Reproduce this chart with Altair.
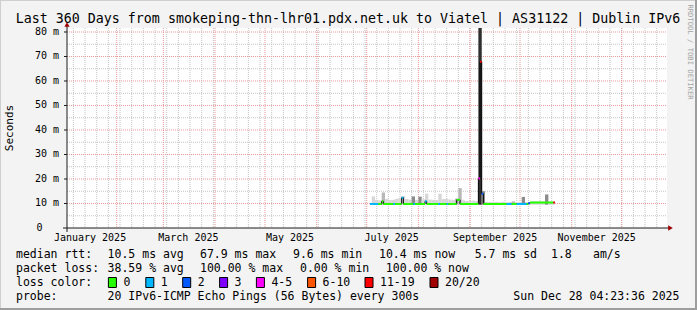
import altair as alt
import pandas as pd

MONO = "DejaVu Sans Mono"
W, H = 600, 200          # rrdtool canvas
OX, OY = 67, 28          # canvas origin inside the 697x310 image
Y_TOP = 81.63            # ms at the top edge of the canvas

# ---------------- data ----------------
title_text = "Last 360 Days from smokeping-thn-lhr01.pdx.net.uk to Viatel | AS31122 | Dublin IPv6"

y_ticks = [10, 20, 30, 40, 50, 60, 70, 80]
y_tick_labels = ["10 m", "20 m", "30 m", "40 m", "50 m", "60 m", "70 m", "80 m"]
y_minor = [5, 15, 25, 35, 45, 55, 65, 75]

month_starts = ["2025-02-01", "2025-03-01", "2025-04-01", "2025-05-01", "2025-06-01",
                "2025-07-01", "2025-08-01", "2025-09-01", "2025-10-01", "2025-11-01",
                "2025-12-01"]
label_dates = ["2025-01-16", "2025-03-16", "2025-05-16", "2025-07-16", "2025-09-16", "2025-11-16"]
month_labels = ["January 2025", "March 2025", "May 2025", "July 2025",
                "September 2025", "November 2025"]

# median RTT segments (ms) and loss class
seg_start = ["2025-07-03", "2025-07-08", "2025-07-10", "2025-07-11", "2025-07-17",
             "2025-07-18", "2025-07-22", "2025-07-23", "2025-07-29", "2025-07-30",
             "2025-08-05", "2025-08-06", "2025-08-13", "2025-08-14", "2025-08-18",
             "2025-08-19", "2025-08-24", "2025-08-26", "2025-09-06", "2025-09-07",
             "2025-09-08", "2025-09-09", "2025-09-23", "2025-09-26", "2025-09-29",
             "2025-10-05", "2025-10-06", "2025-10-07", "2025-10-21"]
data_end = "2025-10-22"
seg_median = [9.8, 9.8, 10.9, 9.8, 9.8, 9.8, 12.4, 9.8, 9.8, 9.8,
              10.9, 9.8, 9.8, 9.8, 9.8, 9.8, 11.5, 9.8, 20.2, 67.9,
              14.0, 9.8, 9.8, 9.8, 9.8, 9.8, 10.1, 10.4, 10.4]
seg_loss = ["1", "0", "0", "0", "1", "0", "1", "0", "1", "0",
            "1", "0", "1", "0", "1", "0", "0", "0", "4-5", "11-19",
            "2", "0", "1", "0", "1", "0", "2", "0", "11-19"]

# smoke (ping spread), 2-day bins starting 2025-07-04
smoke_first = "2025-07-04"
smoke_lo = 9.5
smoke_hi = [12.9, 11.5, 11.3, 14.5, 11.8, 11.4, 11.5, 11.9, 12.3, 13.0,
            11.8, 11.6, 12.9, 11.5, 12.8, 11.7, 14.0, 11.6, 11.5, 11.4,
            14.0, 11.8, 11.9, 11.6, 11.5, 12.0, 16.3, 11.3, 11.0, 11.0,
            11.2, 11.0, 100.0, 15.0, 10.6, 10.6, 10.5, 10.6, 10.5, 10.7,
            10.5, 10.6, 10.9, 10.5, 10.6, 12.7, 10.6, 10.6, 10.9, 10.9,
            10.9, 10.9, 13.7, 10.9, 10.9]
smoke_level = [0, 0, 0, 1, 0, 0, 0, 0, 0, 0,
               0, 0, 2, 0, 2, 0, 0, 0, 0, 0,
               0, 0, 0, 0, 0, 1, 1, 0, 0, 0,
               0, 0, 3, 2, 0, 0, 0, 0, 0, 0,
               0, 0, 1, 0, 0, 2, 0, 0, 0, 0,
               0, 0, 2, 0, 0]

loss_labels = ["0", "1", "2", "3", "4-5", "6-10", "11-19", "20/20"]
loss_colors = ["#26ff00", "#00b8ff", "#0059ff", "#7e00ff", "#ff00ff", "#ff5500", "#ff0000", "#a00000"]

stats_rtt = ["10.5 ms avg", "67.9 ms max", "9.6 ms min", "10.4 ms now", "5.7 ms sd", "1.8", "am/s"]
stats_loss = ["38.59 % avg", "100.00 % max", "0.00 % min", "100.00 % now"]
probe_text = "20 IPv6-ICMP Echo Pings (56 Bytes) every 300s"
stamp_text = "Sun Dec 28 04:23:36 2025"

# ---------------- helpers ----------------
def iso(d):
    return d + "T00:00:00Z"

xs = alt.Scale(type="utc", domain=[
    alt.DateTime(year=2025, month=1, date=2, hours=4, minutes=23, seconds=36, utc=True),
    alt.DateTime(year=2025, month=12, date=28, hours=4, minutes=23, seconds=36, utc=True)])
ys = alt.Scale(domain=[0, Y_TOP], clamp=True)

def XT(f):
    return alt.X(f, type="temporal", scale=xs, axis=None)

def YQ(f):
    return alt.Y(f, type="quantitative", scale=ys, axis=None)

one = pd.DataFrame({"k": [0]})

def txt(s, x, y, size=11.5, align="left", color="black", angle=0, baseline="middle"):
    return alt.Chart(one).mark_text(
        text=s, align=align, baseline=baseline, fontSize=size, font=MONO,
        color=color, angle=angle).encode(x=alt.value(x - OX), y=alt.value(y - OY))

def hrule(x1, x2, y, color, w=1.0):
    return alt.Chart(one).mark_rule(color=color, strokeWidth=w).encode(
        x=alt.value(x1 - OX), x2=alt.value(x2 - OX), y=alt.value(y - OY))

def vrule(x, y1, y2, color, w=1.0):
    return alt.Chart(one).mark_rule(color=color, strokeWidth=w).encode(
        x=alt.value(x - OX), y=alt.value(y1 - OY), y2=alt.value(y2 - OY))

layers = []

# ---------------- grid ----------------
weeks = pd.date_range("2025-01-06", "2025-12-22", freq="7D").strftime("%Y-%m-%d").tolist()
minor_x = pd.DataFrame({"t": [iso(d) for d in weeks]})
major_x = pd.DataFrame({"t": [iso(d) for d in month_starts]})
layers.append(alt.Chart(minor_x).mark_rule(color="#c4c4c4", strokeDash=[1, 1], strokeWidth=1).encode(
    x=XT("t"), y=alt.value(0), y2=alt.value(H)))
layers.append(alt.Chart(pd.DataFrame({"v": y_minor})).mark_rule(color="#c4c4c4", strokeDash=[1, 1], strokeWidth=1).encode(
    y=YQ("v"), x=alt.value(0), x2=alt.value(W)))
layers.append(alt.Chart(major_x).mark_rule(color="#e89a9a", strokeDash=[1, 1], strokeWidth=1).encode(
    x=XT("t"), y=alt.value(0), y2=alt.value(H)))
layers.append(alt.Chart(pd.DataFrame({"v": y_ticks})).mark_rule(color="#e89a9a", strokeDash=[1, 1], strokeWidth=1).encode(
    y=YQ("v"), x=alt.value(0), x2=alt.value(W)))

# ---------------- smoke ----------------
bins = pd.date_range(smoke_first, periods=len(smoke_hi), freq="2D")
smoke = pd.DataFrame({
    "t0": bins.strftime("%Y-%m-%dT00:00:00Z"),
    "t1": (bins + pd.Timedelta(days=2)).strftime("%Y-%m-%dT00:00:00Z"),
    "lo": [smoke_lo] * len(smoke_hi),
    "hi": smoke_hi,
    "lvl": smoke_level,
})
layers.append(alt.Chart(smoke).mark_rect().encode(
    x=XT("t0"), x2="t1", y=YQ("lo"), y2="hi",
    fill=alt.Fill("lvl:O", scale=alt.Scale(domain=[0, 1, 2, 3],
                                           range=["#d6d6d6", "#b8b8b8", "#8c8c8c", "#2e2e2e"]),
                  legend=None)))

# ---------------- median ----------------
step = pd.DataFrame({"t": [iso(d) for d in seg_start] + [iso(data_end)],
                     "v": seg_median + [seg_median[-1]]})
layers.append(alt.Chart(step).mark_line(interpolate="step-after", color="black", strokeWidth=1).encode(
    x=XT("t"), y=YQ("v")))
segs = pd.DataFrame({"t0": [iso(d) for d in seg_start],
                     "t1": [iso(d) for d in seg_start[1:] + [data_end]],
                     "v": seg_median, "loss": seg_loss})
layers.append(alt.Chart(segs).mark_rule(strokeWidth=2, strokeCap="butt").encode(
    x=XT("t0"), x2="t1", y=YQ("v"),
    stroke=alt.Stroke("loss:N", scale=alt.Scale(domain=loss_labels, range=loss_colors), legend=None)))

# ---------------- axes ----------------
layers.append(hrule(63, 670, 228, "#1a1a1a"))
layers.append(vrule(67, 232, 25, "#1a1a1a"))
layers.append(alt.Chart(one).mark_point(shape="triangle-right", filled=True, size=28, color="#a00000", opacity=1).encode(
    x=alt.value(670.5 - OX), y=alt.value(228 - OY)))
layers.append(alt.Chart(one).mark_point(shape="triangle-up", filled=True, size=28, color="#a00000", opacity=1).encode(
    x=alt.value(67 - OX), y=alt.value(24.5 - OY)))
layers.append(alt.Chart(pd.DataFrame({"v": y_ticks})).mark_rule(color="#1a1a1a").encode(
    y=YQ("v"), x=alt.value(-3), x2=alt.value(0)))

# y tick labels
layers.append(alt.Chart(pd.DataFrame({"v": y_ticks, "lab": y_tick_labels})).mark_text(
    align="right", baseline="middle", font=MONO, fontSize=10, color="black").encode(
    y=YQ("v"), x=alt.value(-8), text="lab:N"))
layers.append(txt("0", 42.5, 228, size=10, align="right"))

# month labels
layers.append(alt.Chart(pd.DataFrame({"t": [iso(d) for d in label_dates], "lab": month_labels})).mark_text(
    align="center", baseline="middle", font=MONO, fontSize=10, color="black").encode(
    x=XT("t"), y=alt.value(238 - OY), text="lab:N"))

# ---------------- titles ----------------
layers.append(txt(title_text, 348, 22.5, size=13.3, align="center", baseline="alphabetic"))
layers.append(txt("Seconds", 10, 128, size=11, align="center", angle=270))
layers.append(txt("RRDTOOL / TOBI OETIKER", 690, 52, size=7.2, align="center", color="#a4a4a4", angle=90))

# ---------------- legend ----------------
r1, r2, r3, r4 = 254.5, 268.5, 282.5, 296.5
layers.append(txt("median rtt:", 16, r1))
for s, x in zip(stats_rtt, [107.6, 200, 293, 379, 474.7, 551, 593]):
    layers.append(txt(s, x, r1))
layers.append(txt("packet loss:", 16, r2))
for s, x in zip(stats_loss, [107.6, 200, 300, 385.8]):
    layers.append(txt(s, x, r2))
layers.append(txt("loss color:", 16, r3))
box_x = [108.4, 145.8, 182.7, 219.6, 256.4, 307.6, 365, 430]
for lab, col, bx in zip(loss_labels, loss_colors, box_x):
    layers.append(alt.Chart(one).mark_rect(fill=col, stroke="black", strokeWidth=1).encode(
        x=alt.value(bx - OX), x2=alt.value(bx + 8 - OX),
        y=alt.value(r3 - 5 - OY), y2=alt.value(r3 + 5 - OY)))
    layers.append(txt(lab, bx + 15, r3))
layers.append(txt("probe:", 16, r4))
layers.append(txt(probe_text, 107.6, r4))
layers.append(txt(stamp_text, 513.3, r4))

# ---------------- frame ----------------
layers.append(hrule(0, 697, 0.5, "#cfcfcf", 1))
layers.append(vrule(0.5, 0, 310, "#cfcfcf", 1))
layers.append(vrule(696, 0, 310, "#9e9e9e", 2))
layers.append(hrule(0, 697, 309, "#9e9e9e", 2))

chart = alt.layer(*layers).properties(
    width=W, height=H,
    autosize=alt.AutoSizeParams(type="none"),
    padding={"left": OX, "top": OY, "right": 697 - OX - W, "bottom": 310 - OY - H},
).configure(background="#f3f3f3").configure_view(fill="white", stroke=None)

chart.save("out.html", embed_options={"renderer": "svg", "actions": False})
